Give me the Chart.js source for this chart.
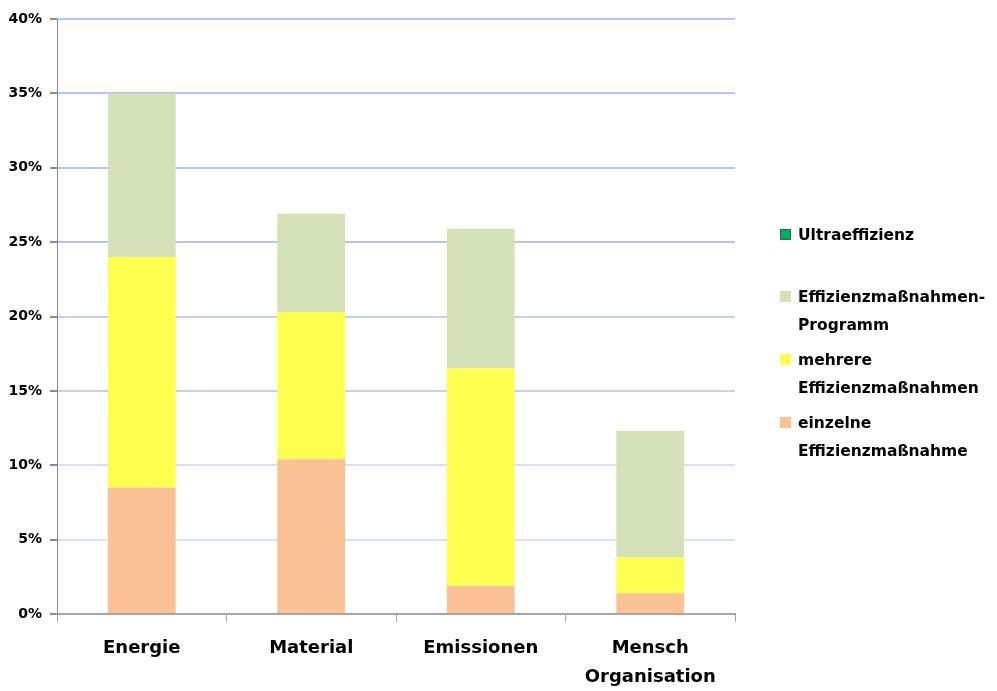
<!DOCTYPE html>
<html>
<head>
<meta charset="utf-8">
<script src="https://cdn.jsdelivr.net/npm/chart.js@4.4.0/dist/chart.umd.min.js"></script>
<style>
    html, body { margin: 0; padding: 0; background: #fff; }
    #wrap { position: relative; width: 997px; height: 691px; }
    #legend { position: absolute; left: 780px; top: 0; font-family: "DejaVu Sans", sans-serif; font-weight: bold; font-size: 15.5px; color: #000; }
    .item { position: absolute; left: 0; white-space: nowrap; line-height: 28px; }
    .box { position: absolute; left: 0; width: 11px; height: 11px; }
    .txt { position: absolute; left: 18px; top: -8px; }
</style>
</head>
<body>
<div id="wrap">
    <canvas id="chart" width="997" height="691"></canvas>
    <div id="legend"></div>
</div>
<script>
const categories = ['Energie', 'Material', 'Emissionen', ['Mensch', 'Organisation']];
const einzelne = [8.5, 10.4, 1.9, 1.4];
const mehrere = [15.5, 9.9, 14.6, 2.4];
const programm = [11.0, 6.6, 9.4, 8.5];
const ultra = [0, 0, 0, 0];

const colors = {
    einzelne: '#f9c194',
    mehrere: '#ffff4f',
    programm: '#d5e1b9',
    ultra: '#00b050'
};

// grid lines get lighter towards the bottom, like in the original
function gridColor(ctx) {
    const v = ctx.tick ? ctx.tick.value : 0;
    if (v === 0) return 'rgba(0,0,0,0)';
    if (v >= 25) return '#b4c6e9';
    if (v >= 15) return '#c3d1ee';
    return '#d9e2f4';
}

const chart = new Chart(document.getElementById('chart').getContext('2d'), {
    type: 'bar',
    data: {
        labels: categories,
        datasets: [
            { label: 'einzelne Effizienzmaßnahme', data: einzelne, backgroundColor: colors.einzelne },
            { label: 'mehrere Effizienzmaßnahmen', data: mehrere, backgroundColor: colors.mehrere },
            { label: 'Effizienzmaßnahmen-Programm', data: programm, backgroundColor: colors.programm },
            { label: 'Ultraeffizienz', data: ultra, backgroundColor: colors.ultra }
        ]
    },
    options: {
        responsive: false,
        animation: false,
        layout: { padding: { top: 19, right: 262, left: 0, bottom: 0 } },
        datasets: { bar: { barPercentage: 0.4, categoryPercentage: 1.0 } },
        plugins: {
            legend: { display: false },
            tooltip: { enabled: false }
        },
        scales: {
            x: {
                stacked: true,
                afterFit: (scale) => { scale.height = 77; },
                border: { color: '#a6a6a6', width: 2 },
                grid: { offset: true, drawOnChartArea: false, tickLength: 8, color: '#a6a6a6' },
                ticks: {
                    color: '#000',
                    padding: 11,
                    font: { family: 'DejaVu Sans', weight: 'bold', size: 18, lineHeight: 1.65 }
                }
            },
            y: {
                stacked: true,
                min: 0,
                max: 40,
                afterFit: (scale) => { scale.width = 57; },
                border: { color: '#8c8c8c', width: 1 },
                grid: { color: gridColor, lineWidth: 2, tickLength: 7, tickColor: '#8c8c8c' },
                ticks: {
                    stepSize: 5,
                    color: '#000',
                    padding: 8,
                    font: { family: 'DejaVu Sans', weight: 'bold', size: 14 },
                    callback: (v) => v + '%'
                }
            }
        }
    }
});

const legendItems = [
    { lines: ['Ultraeffizienz'], color: colors.ultra, border: '#2f5f8f', top: 229 },
    { lines: ['Effizienzmaßnahmen-', 'Programm'], color: colors.programm, top: 291 },
    { lines: ['mehrere', 'Effizienzmaßnahmen'], color: colors.mehrere, top: 354 },
    { lines: ['einzelne', 'Effizienzmaßnahme'], color: colors.einzelne, top: 417 }
];

const legendEl = document.getElementById('legend');
legendItems.forEach(item => {
    const div = document.createElement('div');
    div.className = 'item';
    div.style.top = item.top + 'px';
    const box = document.createElement('div');
    box.className = 'box';
    box.style.background = item.color;
    if (item.border) {
        box.style.boxSizing = 'border-box';
        box.style.border = '1px solid ' + item.border;
    }
    const txt = document.createElement('div');
    txt.className = 'txt';
    txt.innerHTML = item.lines.join('<br>');
    div.appendChild(box);
    div.appendChild(txt);
    legendEl.appendChild(div);
});
</script>
</body>
</html>
